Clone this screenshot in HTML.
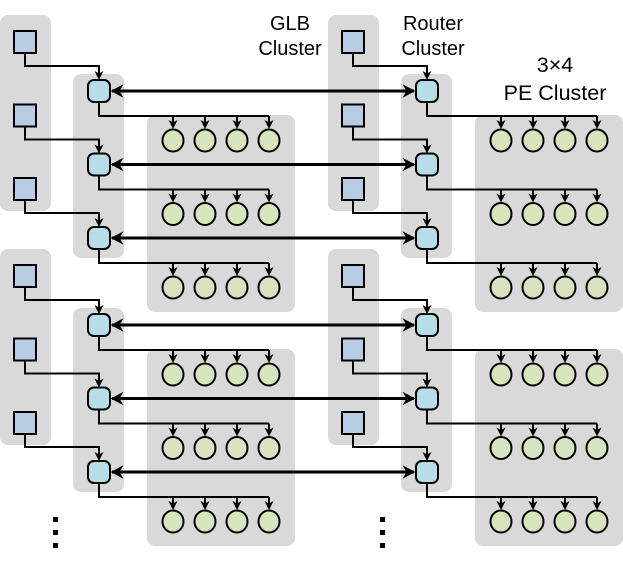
<!DOCTYPE html>
<html><head><meta charset="utf-8"><style>
html,body{margin:0;padding:0;background:#fff;}
svg{display:block;font-family:"Liberation Sans",sans-serif;}
</style></head><body>
<svg width="623" height="575" viewBox="0 0 623 575" xmlns="http://www.w3.org/2000/svg">
<defs>
<marker id="b" viewBox="0 0 10 10" refX="9" refY="5" markerWidth="4.5" markerHeight="4.5" orient="auto-start-reverse">
<path d="M0.5,0 L10,5 L0.5,10 L3.5,5 z" fill="#000"/></marker>
<path id="ah" d="M-4.5,-9 L0,0 L4.5,-9 L0,-6.5 z" fill="#000"/>
<g id="row">
<rect x="14" y="31" width="22" height="22" fill="#b8cce4" stroke="#000" stroke-width="2"/>
<path d="M25,53 V66 H99 V76" fill="none" stroke="#000" stroke-width="2"/>
<use href="#ah" x="99" y="80"/>
<path d="M99,102 V116 H269 M173,116 V124 M205,116 V124 M237,116 V124 M269,116 V124" fill="none" stroke="#000" stroke-width="2"/>
<use href="#ah" x="173" y="129"/>
<use href="#ah" x="205" y="129"/>
<use href="#ah" x="237" y="129"/>
<use href="#ah" x="269" y="129"/>
<rect x="88" y="80" width="22" height="22" rx="6" fill="#b7dde8" stroke="#000" stroke-width="2"/>
<ellipse cx="173" cy="140.5" rx="10.5" ry="11" fill="#d7e4bd" stroke="#000" stroke-width="2"/>
<ellipse cx="205" cy="140.5" rx="10.5" ry="11" fill="#d7e4bd" stroke="#000" stroke-width="2"/>
<ellipse cx="237" cy="140.5" rx="10.5" ry="11" fill="#d7e4bd" stroke="#000" stroke-width="2"/>
<ellipse cx="269" cy="140.5" rx="10.5" ry="11" fill="#d7e4bd" stroke="#000" stroke-width="2"/>
</g>
<g id="half">
<rect x="0" y="15" width="51" height="196" rx="8" fill="#d9d9d9"/>
<rect x="73" y="74" width="51" height="184" rx="8" fill="#d9d9d9"/>
<rect x="147" y="115" width="148" height="197" rx="8" fill="#d9d9d9"/>
<use href="#row"/>
<use href="#row" transform="translate(0,73.5)"/>
<use href="#row" transform="translate(0,147)"/>
</g>
<g id="block">
<use href="#half"/>
<use href="#half" transform="translate(328,0)"/>
<g stroke="#000" stroke-width="3" marker-start="url(#b)" marker-end="url(#b)">
<line x1="112" y1="91" x2="414" y2="91"/>
<line x1="112" y1="164.5" x2="414" y2="164.5"/>
<line x1="112" y1="238" x2="414" y2="238"/>
</g>
</g>
</defs>
<use href="#block"/>
<use href="#block" transform="translate(0,234)"/>
<g fill="#000">
<rect x="53" y="517" width="5" height="5"/><rect x="53" y="530" width="5" height="5"/><rect x="53" y="543" width="5" height="5"/>
<rect x="380" y="517" width="5" height="5"/><rect x="380" y="530" width="5" height="5"/><rect x="380" y="543" width="5" height="5"/>
</g>
<g font-size="20" text-anchor="middle" fill="#000">
<text x="290" y="30">GLB</text><text x="290" y="55">Cluster</text>
<text x="433" y="30">Router</text><text x="433" y="55">Cluster</text>
</g>
<g font-size="21.5" text-anchor="middle" fill="#000">
<text x="555" y="72">3×4</text><text x="555" y="100">PE Cluster</text>
</g>
</svg>
</body></html>
